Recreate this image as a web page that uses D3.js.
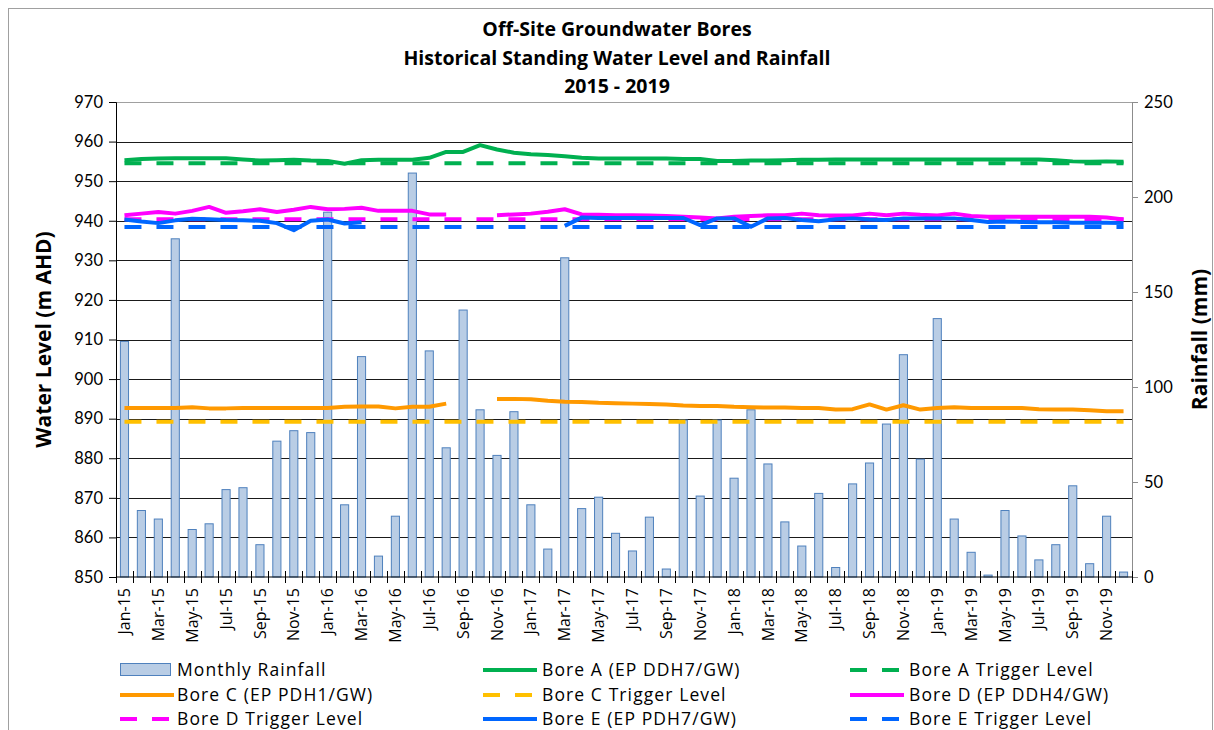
<!DOCTYPE html>
<html>
<head>
<meta charset="utf-8">
<script src="https://cdn.jsdelivr.net/npm/d3@7"></script>
<style>
  body { margin: 0; background: #fff; }
  text { font-family: "Open Sans", Lato, sans-serif; fill: #000; }
</style>
</head>
<body>
<div id="chart"></div>
<script>
// categories: one per month, Jan-15 .. Dec-19
var months = d3.timeMonth.range(new Date(2015, 0, 1), new Date(2020, 0, 1));
var fmt = d3.timeFormat("%b-%y");

var rainfall = [
    124, 35, 30.5, 178, 25, 28, 46, 47, 17, 71.5, 77, 76,
    192, 38, 116, 11, 32, 212.6, 119, 68, 140.5, 88, 64, 87,
    38, 14.7, 168, 36, 42, 23, 13.7, 31.5, 4.2, 82.6, 42.6, 82.6,
    52, 88, 59.5, 29, 16.3, 44, 5, 49, 60, 80.5, 117, 62,
    136, 30.5, 13, 1, 35, 21.6, 9, 17, 48, 7, 32, 2.6
];

var boreA = [
    955.3, 955.6, 955.7, 955.8, 955.8, 955.8, 955.8, 955.5, 955.2, 955.3, 955.4, 955.2,
    955.1, 954.4, 955.3, 955.4, 955.4, 955.4, 955.9, 957.4, 957.4, 959.1, 958.0, 957.2,
    956.8, 956.6, 956.3, 955.9, 955.7, 955.7, 955.7, 955.7, 955.7, 955.6, 955.6, 955.1,
    955.1, 955.2, 955.2, 955.3, 955.4, 955.4, 955.5, 955.5, 955.5, 955.5, 955.5, 955.5,
    955.5, 955.5, 955.5, 955.5, 955.5, 955.5, 955.5, 955.3, 955.0, 954.9, 955.0, 954.9
];
var boreC = [
    892.7, 892.7, 892.7, 892.7, 892.9, 892.6, 892.6, 892.7, 892.7, 892.7, 892.7, 892.7,
    892.7, 893.0, 893.1, 893.1, 892.6, 893.0, 893.0, 893.8, null, null, 895.0, 895.0,
    894.9, 894.5, 894.3, 894.2, 894.0, 893.9, 893.8, 893.7, 893.6, 893.3, 893.2, 893.2,
    893.0, 892.9, 892.8, 892.8, 892.7, 892.7, 892.3, 892.4, 893.6, 892.3, 893.4, 892.3,
    892.7, 892.9, 892.7, 892.7, 892.7, 892.7, 892.4, 892.3, 892.3, 892.1, 891.9, 891.9
];
var boreD = [
    941.4, 941.8, 942.2, 941.8, 942.5, 943.5, 942.0, 942.4, 942.9, 942.2, 942.8, 943.5,
    942.9, 943.0, 943.3, 942.5, 942.5, 942.5, 941.6, 941.6, null, null, 941.4, 941.6,
    941.8, 942.3, 942.9, 941.6, 941.5, 941.4, 941.4, 941.3, 941.2, 941.0, 940.8, 940.6,
    941.0, 941.2, 941.4, 941.4, 941.8, 941.4, 941.3, 941.3, 941.8, 941.4, 941.8, 941.5,
    941.3, 941.8, 941.2, 941.0, 941.0, 941.0, 941.0, 941.0, 941.0, 941.0, 940.8, 940.3
];
var boreE = [
    940.3, 939.8, 939.4, 940.1, 940.5, 940.4, 940.2, 940.1, 940.0, 939.4, 937.6, 940.0,
    940.3, 939.3, 939.6, null, null, null, null, null, null, null, null, null,
    null, null, 938.7, 940.8, 940.7, 940.7, 940.7, 940.7, 940.7, 940.7, 938.9, 940.6,
    940.6, 938.5, 940.6, 940.7, 940.2, 939.9, 940.4, 940.6, 940.3, 940.2, 940.6, 940.6,
    940.6, 940.6, 940.2, 939.7, 939.8, 939.7, 939.6, 939.6, 939.5, 939.5, 939.5, 939.4
];
var triggerA = 954.5, triggerC = 889.2, triggerD = 940.4, triggerE = 938.4;

var levelTicks = d3.range(850, 971, 10);
var rainTicks = d3.range(0, 251, 50);
var titleLines = ["Off-Site Groundwater Bores", "Historical Standing Water Level and Rainfall", "2015 - 2019"];

var W = 1214, H = 730;
var margin = {top: 102, right: 82, bottom: 153, left: 116};
var width = W - margin.left - margin.right,
    height = H - margin.top - margin.bottom;

var svg = d3.select("#chart").append("svg")
    .attr("width", W)
    .attr("height", H);

// outer frame
svg.append("rect")
    .attr("x", 8.5).attr("y", 8.5)
    .attr("width", W - 10).attr("height", H)
    .attr("fill", "none")
    .attr("stroke", "#a0a0a0");

svg.selectAll(".title")
    .data(titleLines)
    .enter().append("text")
    .attr("class", "title")
    .attr("x", 617)
    .attr("y", function (d, i) { return 36 + i * 28.5; })
    .attr("text-anchor", "middle")
    .style("font-size", "19.5px")
    .style("font-weight", "bold")
    .text(function (d) { return d; });

var x = d3.scaleBand().domain(months.map(fmt)).range([0, width]).paddingInner(0.52).paddingOuter(0.26),
    xp = d3.scalePoint().domain(months.map(fmt)).range([0, width]).padding(0.5),
    y = d3.scaleLinear().domain([850, 970]).range([height, 0]),
    y2 = d3.scaleLinear().domain([0, 250]).range([height, 0]);

var g = svg.append("g")
    .attr("transform", "translate(" + margin.left + "," + margin.top + ")");

// gridlines
g.append("g")
    .selectAll("line")
    .data(levelTicks.filter(function (d) { return d > 850 && d < 970; }))
    .enter().append("line")
    .attr("x1", 0).attr("x2", width)
    .attr("y1", function (d) { return Math.round(y(d)) + 0.5; })
    .attr("y2", function (d) { return Math.round(y(d)) + 0.5; })
    .attr("stroke", "#1a1a1a")
    .attr("stroke-width", 1);

g.append("line")
    .attr("x1", 0).attr("x2", width)
    .attr("y1", 0.5).attr("y2", 0.5)
    .attr("stroke", "#a0a0a0");

// rainfall bars
g.append("g")
    .selectAll("rect")
    .data(rainfall)
    .enter().append("rect")
    .attr("x", function (d, i) { return x(fmt(months[i])); })
    .attr("y", function (d) { return y2(d); })
    .attr("width", x.bandwidth())
    .attr("height", function (d) { return height - y2(d); })
    .attr("fill", "#b9cde5")
    .attr("stroke", "#4f81bd")
    .attr("stroke-width", 1);

function lineOf(vals) {
    return d3.line()
        .defined(function (d) { return d != null; })
        .x(function (d, i) { return xp(fmt(months[i])); })
        .y(function (d) { return y(d); })(vals);
}
function flat(v) { return months.map(function () { return v; }); }

var series = [
    {vals: boreA, color: "#00b050", dash: null},
    {vals: flat(triggerA), color: "#00b050", dash: "17,15"},
    {vals: boreC, color: "#ff9900", dash: null},
    {vals: flat(triggerC), color: "#ffc000", dash: "17,15"},
    {vals: boreD, color: "#ff00ff", dash: null},
    {vals: flat(triggerD), color: "#ff00ff", dash: "17,15"},
    {vals: boreE, color: "#0066ff", dash: null},
    {vals: flat(triggerE), color: "#0066ff", dash: "17,15"}
];

g.append("g")
    .selectAll("path")
    .data(series)
    .enter().append("path")
    .attr("d", function (d) { return lineOf(d.vals); })
    .attr("fill", "none")
    .attr("stroke", function (d) { return d.color; })
    .attr("stroke-width", 4)
    .attr("stroke-linejoin", "round")
    .attr("stroke-dasharray", function (d) { return d.dash; });

// left axis
var yAxis = d3.axisLeft(y).tickValues(levelTicks).tickSize(7).tickPadding(6);
var ya = g.append("g").call(yAxis);
ya.select(".domain").attr("stroke", "#000");
ya.selectAll("text").style("font-family", "Lato, sans-serif").style("font-size", "16.5px");

// right axis
var y2Axis = d3.axisRight(y2).tickValues(rainTicks).tickSize(6).tickPadding(6);
var yr = g.append("g").attr("transform", "translate(" + width + ",0)").call(y2Axis);
yr.select(".domain").attr("stroke", "#8c8c8c");
yr.selectAll(".tick line").attr("stroke", "#8c8c8c");
yr.selectAll("text").style("font-family", "Lato, sans-serif").style("font-size", "16.5px");

// bottom axis: ticks at month boundaries, crossing the line
var xa = g.append("g").attr("transform", "translate(0," + height + ")");
xa.append("line")
    .attr("x1", 0).attr("x2", width)
    .attr("stroke", "#000");
xa.selectAll(".mtick")
    .data(d3.range(months.length + 1))
    .enter().append("line")
    .attr("class", "mtick")
    .attr("x1", function (i) { return Math.round(i * width / months.length) + 0.5; })
    .attr("x2", function (i) { return Math.round(i * width / months.length) + 0.5; })
    .attr("y1", -6).attr("y2", 6)
    .attr("stroke", "#000");
xa.selectAll(".mlabel")
    .data(months.filter(function (d, i) { return i % 2 === 0; }))
    .enter().append("text")
    .attr("class", "mlabel")
    .attr("transform", function (d) { return "translate(" + xp(fmt(d)) + ",11) rotate(-90)"; })
    .attr("dy", "0.35em")
    .attr("text-anchor", "end")
    .style("font-size", "16px")
    .text(function (d) { return fmt(d); });

// axis titles
svg.append("text")
    .attr("transform", "translate(44," + (margin.top + height / 2) + ") rotate(-90)")
    .attr("text-anchor", "middle")
    .attr("dy", "0.35em")
    .style("font-size", "21px")
    .style("font-weight", "bold")
    .text("Water Level (m AHD)");
svg.append("text")
    .attr("transform", "translate(1200," + (margin.top + height / 2) + ") rotate(-90)")
    .attr("text-anchor", "middle")
    .attr("dy", "0.35em")
    .style("font-size", "21px")
    .style("font-weight", "bold")
    .text("Rainfall (mm)");

// legend
var legendItems = [
    {name: "Monthly Rainfall", type: "bar", color: "#b9cde5"},
    {name: "Bore A (EP DDH7/GW)", type: "line", color: "#00b050"},
    {name: "Bore A Trigger Level", type: "dash", color: "#00b050"},
    {name: "Bore C (EP PDH1/GW)", type: "line", color: "#ff9900"},
    {name: "Bore C Trigger Level", type: "dash", color: "#ffc000"},
    {name: "Bore D (EP DDH4/GW)", type: "line", color: "#ff00ff"},
    {name: "Bore D Trigger Level", type: "dash", color: "#ff00ff"},
    {name: "Bore E (EP PDH7/GW)", type: "line", color: "#0066ff"},
    {name: "Bore E Trigger Level", type: "dash", color: "#0066ff"}
];
var colX = [120, 483, 850], rowY = [670, 695, 719];

var lg = svg.append("g").selectAll("g")
    .data(legendItems)
    .enter().append("g")
    .attr("transform", function (d, i) { return "translate(" + colX[i % 3] + "," + rowY[Math.floor(i / 3)] + ")"; });

lg.filter(function (d) { return d.type === "bar"; })
    .append("rect")
    .attr("x", 0.5).attr("y", -6.5)
    .attr("width", 50).attr("height", 12)
    .attr("fill", "#b9cde5")
    .attr("stroke", "#4f81bd");

lg.filter(function (d) { return d.type !== "bar"; })
    .append("line")
    .attr("x1", 0).attr("x2", 54)
    .attr("stroke", function (d) { return d.color; })
    .attr("stroke-width", 4)
    .attr("stroke-dasharray", function (d) { return d.type === "dash" ? "17,15" : null; });

lg.append("text")
    .attr("x", function (d, i) { return i % 3 === 0 ? 57 : 59; })
    .attr("dy", "0.35em")
    .style("font-size", "17.5px")
    .style("letter-spacing", "1.1px")
    .text(function (d) { return d.name; });
</script>
</body>
</html>
